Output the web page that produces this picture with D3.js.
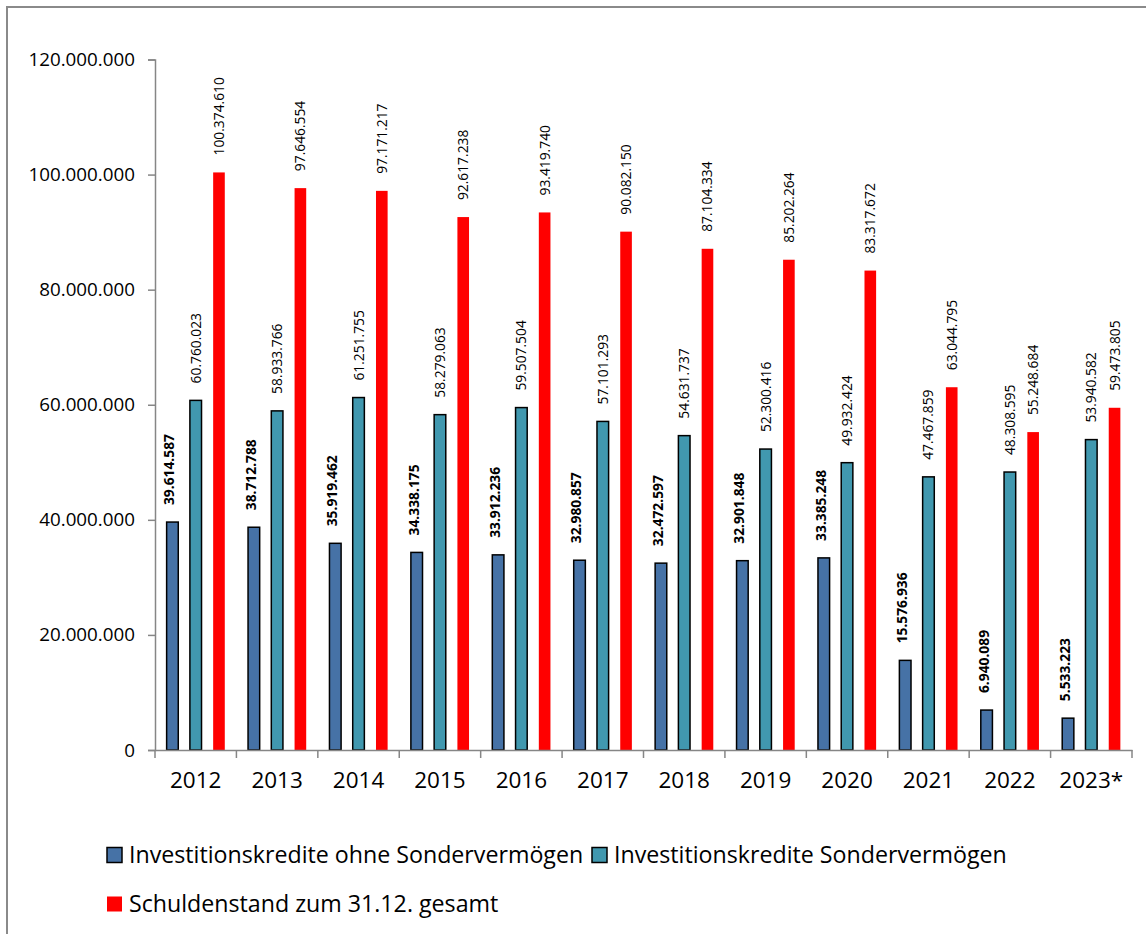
<!DOCTYPE html>
<html>
<head>
<meta charset="utf-8">
<script src="https://cdn.jsdelivr.net/npm/d3@7"></script>
<style>
  html, body { margin: 0; padding: 0; background: #fff; }
  svg { display: block; font-family: "Open Sans", "Noto Sans", sans-serif; }
</style>
</head>
<body>
<svg id="chart" width="1146" height="934"></svg>
<script>
const categories = ["2012","2013","2014","2015","2016","2017","2018","2019","2020","2021","2022","2023*"];
const seriesNames = ["Investitionskredite ohne Sondervermögen", "Investitionskredite Sondervermögen", "Schuldenstand zum 31.12. gesamt"];
const ohneSV = [39614587, 38712788, 35919462, 34338175, 33912236, 32980857, 32472597, 32901848, 33385248, 15576936, 6940089, 5533223];
const mitSV = [60760023, 58933766, 61251755, 58279063, 59507504, 57101293, 54631737, 52300416, 49932424, 47467859, 48308595, 53940582];
const gesamt = [100374610, 97646554, 97171217, 92617238, 93419740, 90082150, 87104334, 85202264, 83317672, 63044795, 55248684, 59473805];
const yTicks = [0, 20000000, 40000000, 60000000, 80000000, 100000000, 120000000];

const colors = ["#4672A6", "#4198AF", "#FF0000"];
const strokes = ["#000", "#000", "none"];
const labelBold = [true, false, false];

const locale = d3.formatLocale({decimal: ",", thousands: ".", grouping: [3], currency: ["", "€"]});
const fmt = locale.format(",d");

const svg = d3.select("#chart");

// outer border
svg.append("rect").attr("x", 7).attr("y", 7).attr("width", 1160).attr("height", 960)
  .attr("fill", "none").attr("stroke", "#8a8a8a").attr("stroke-width", 2);

const pLeft = 155, pRight = 1132, pTop = 59.5, pBottom = 750;

const x = d3.scaleBand().domain(categories).range([pLeft, pRight]).padding(0);
const W = x.bandwidth();
const xi = d3.scaleBand().domain([0, 1, 2]).range([W / 7, 6 * W / 7]).paddingInner(0.5).paddingOuter(0);
const y = d3.scaleLinear().domain([0, 120000000]).range([pBottom, pTop]);

const data = [ohneSV, mitSV, gesamt];

// bars
const g = svg.append("g");
data.forEach((vals, si) => {
  g.selectAll(null).data(vals).enter().append("rect")
    .attr("x", (d, i) => x(categories[i]) + xi(si))
    .attr("y", d => y(d))
    .attr("width", xi.bandwidth())
    .attr("height", d => y(0) - y(d))
    .attr("fill", colors[si])
    .attr("stroke", strokes[si])
    .attr("stroke-width", 1.5);
  g.selectAll(null).data(vals).enter().append("text")
    .attr("transform", (d, i) => {
      const cx = x(categories[i]) + xi(si) + xi.bandwidth() / 2 + (si === 0 ? -3 : 0);
      return `translate(${cx},${y(d) - 17}) rotate(-90)`;
    })
    .attr("dy", "0.36em")
    .attr("text-anchor", "start")
    .attr("font-size", 13.8)
    .attr("font-weight", labelBold[si] ? "bold" : "normal")
    .attr("fill", "#000")
    .text(d => fmt(d));
});

// y axis
const yAxis = svg.append("g").attr("transform", `translate(${pLeft},0)`)
  .call(d3.axisLeft(y).tickValues(yTicks).tickFormat(d => fmt(d)).tickSize(7).tickPadding(13));
yAxis.select(".domain").attr("stroke", "#868686").attr("stroke-width", 1.5);
yAxis.selectAll(".tick line").attr("stroke", "#868686").attr("stroke-width", 1.5);
yAxis.selectAll(".tick text").attr("font-size", 18.8).attr("fill", "#000").attr("font-family", "'Open Sans', sans-serif");

// x axis
const xAxis = svg.append("g").attr("transform", `translate(0,${pBottom})`)
  .call(d3.axisBottom(x).tickSize(0).tickPadding(22));
xAxis.select(".domain").attr("stroke", "#868686").attr("stroke-width", 1.5);
xAxis.selectAll(".tick text").attr("font-size", 22.5).attr("fill", "#000").attr("font-family", "'Open Sans', sans-serif");
// category boundary ticks
const bounds = categories.map(c => x(c)).concat([pRight]);
xAxis.selectAll("line.bound").data(bounds).enter().append("line")
  .attr("class", "bound")
  .attr("x1", d => d).attr("x2", d => d).attr("y1", 0).attr("y2", 8)
  .attr("stroke", "#868686").attr("stroke-width", 1.5);

// legend
const legendItems = [
  {si: 0, x: 107, y: 855},
  {si: 1, x: 592, y: 855},
  {si: 2, x: 107, y: 904}
];
const lg = svg.append("g");
legendItems.forEach(it => {
  lg.append("rect").attr("x", it.x).attr("y", it.y - 7.5).attr("width", 15).attr("height", 15)
    .attr("fill", colors[it.si])
    .attr("stroke", strokes[it.si]).attr("stroke-width", 1.5);
  lg.append("text").attr("x", it.x + 22).attr("y", it.y).attr("dy", "0.35em")
    .attr("font-size", 23.2).attr("fill", "#000")
    .text(seriesNames[it.si]);
});
</script>
</body>
</html>
